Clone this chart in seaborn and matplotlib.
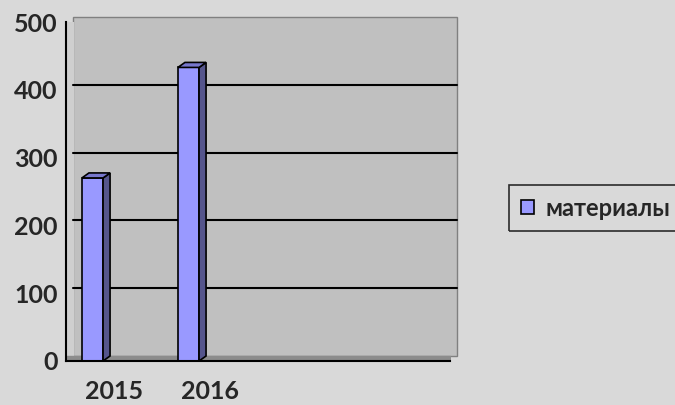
import matplotlib
matplotlib.use("Agg")
import matplotlib.pyplot as plt
import matplotlib.transforms as mtransforms
from matplotlib.patches import Polygon, Rectangle
import pandas as pd
import seaborn as sns

# data
years = [2015, 2016]
materials = [270, 433]
year_labels = ["2015", "2016", "", ""]
series_name = "материалы"

front = "#9999FF"
side = "#55558C"
top = "#7777CC"
wall = "#C0C0C0"

df = pd.DataFrame({"year": years, "value": materials})

sns.set_style("white")
plt.rcParams["font.family"] = ["Lato", "DejaVu Sans"]

fig = plt.figure(figsize=(6.75, 4.05), dpi=100)
fig.patch.set_facecolor("#D9D9D9")
ax = fig.add_axes([66 / 675, 44 / 405, 384 / 675, 339 / 405])
ax.set_facecolor("none")

# 3d depth offset (pixels)
dx, dy = 7, 5
depth = mtransforms.ScaledTranslation(dx / 100, dy / 100, fig.dpi_scale_trans)

# back wall and left wall
ax.add_patch(Rectangle((0, 0), 1, 1, transform=ax.transAxes + depth,
                       facecolor=wall, edgecolor="#808080", lw=1, zorder=0,
                       clip_on=False))
ax.fill_betweenx([0, 1], 0, 0.018, transform=ax.transAxes, color="#CFCFCF", zorder=0)

sns.barplot(data=df, x="year", y="value", native_scale=True, width=0.22,
            color=front, edgecolor="black", linewidth=1.2, saturation=1,
            ax=ax, zorder=3)

x0 = years[0] - 0.5 + 0.224
ax.set_xlim(x0, x0 + len(year_labels))
ax.set_ylim(0, 500)

# gridlines on the back wall
for v in [100, 200, 300, 400]:
    ax.plot([0, 1], [v, v], transform=ax.get_yaxis_transform() + depth,
            color="black", lw=1.5, zorder=1, clip_on=False)

# floor
ax.fill_between([0, 1], 0, 0.015, transform=ax.transAxes, color="#8C8C8C", zorder=1)

# side and top faces of the bars, built from the drawn bars
fig.canvas.draw()
to_px = ax.transData.transform
inv = fig.transFigure.inverted().transform
for p in ax.containers[0]:
    x, w, h = p.get_x(), p.get_width(), p.get_height()
    (lx, by), (rx, ty) = to_px((x, 0)), to_px((x + w, h))
    side_pts = inv([(rx, by), (rx + dx, by + dy), (rx + dx, ty + dy), (rx, ty)])
    top_pts = inv([(lx, ty), (lx + dx, ty + dy), (rx + dx, ty + dy), (rx, ty)])
    fig.add_artist(Polygon(side_pts, closed=True, transform=fig.transFigure,
                           facecolor=side, edgecolor="black", lw=1.2, zorder=4))
    fig.add_artist(Polygon(top_pts, closed=True, transform=fig.transFigure,
                           facecolor=top, edgecolor="black", lw=1.2, zorder=4))

# axes, ticks, labels
for s in ["top", "right"]:
    ax.spines[s].set_visible(False)
for s in ["left", "bottom"]:
    ax.spines[s].set_color("black")
    ax.spines[s].set_linewidth(1.5)
    ax.spines[s].set_zorder(5)

ax.set_yticks([0, 100, 200, 300, 400, 500])
ax.tick_params(axis="y", direction="out", length=5, width=1.5, labelsize=18, pad=1)
ax.set_xticks([x0 + i for i in range(len(year_labels) + 1)], minor=True)
ax.set_xticks([x0 + 0.5 + i for i in range(len(year_labels))])
ax.set_xticklabels(year_labels)
ax.tick_params(axis="x", which="major", length=0, labelsize=18, pad=14)
ax.tick_params(axis="x", which="minor", direction="out", length=5, width=1.5)
for t in ax.get_xticklabels() + ax.get_yticklabels():
    t.set_fontweight("bold")
ax.set_xlabel("")
ax.set_ylabel("")

# legend
handle = Rectangle((0, 0), 1, 1, facecolor=front, edgecolor="black", lw=1.2)
leg = fig.legend([handle], [series_name], loc="center left",
                 bbox_to_anchor=(497 / 675, 1 - 208 / 405), frameon=True,
                 fancybox=False, facecolor="none", edgecolor="black",
                 prop={"weight": "bold", "size": 17}, handlelength=0.55,
                 handleheight=0.55, handletextpad=0.5, borderpad=0.5)
leg.get_frame().set_linewidth(1.2)

fig.savefig("out.png", dpi=100, facecolor=fig.get_facecolor())
